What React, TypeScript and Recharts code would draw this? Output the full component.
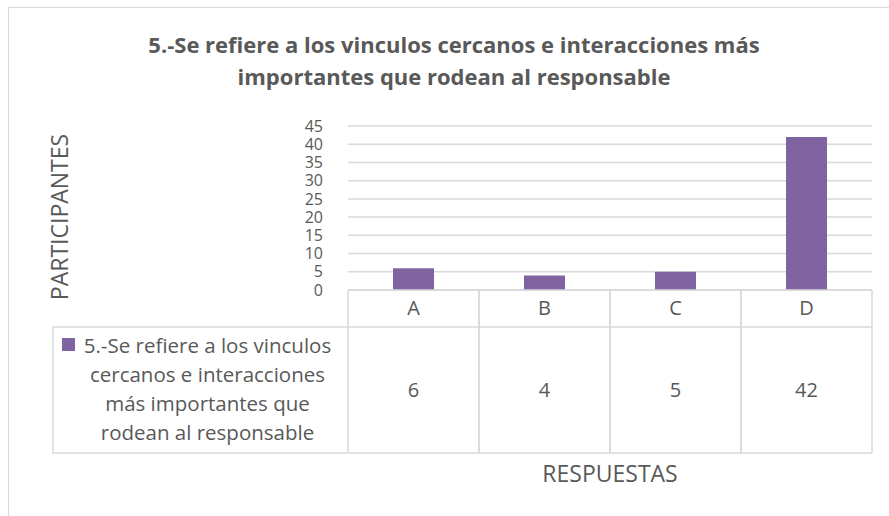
import { BarChart, Bar, XAxis, YAxis, CartesianGrid } from 'recharts';

const categories = ['A', 'B', 'C', 'D'];
const values = [6, 4, 5, 42];
const yTicks = [0, 5, 10, 15, 20, 25, 30, 35, 40, 45];
const seriesName = '5.-Se refiere a los vinculos cercanos e interacciones más importantes que rodean al responsable';
const legendLines = ['5.-Se refiere a los vinculos', 'cercanos e interacciones', 'más importantes que', 'rodean al responsable'];
const titleLines = ['5.-Se refiere a los vinculos cercanos e interacciones más', 'importantes que rodean al responsable'];

const data = categories.map((name, i) => ({ name, value: values[i] }));

const FONT = '"Open Sans", sans-serif';
const TEXT = '#595959';
const LINE = '#D9D9D9';
const BAR = '#8064A2';

// data table under the plot, one column per category tick
function TableTick(props: any) {
    const { x, y, payload, index } = props;
    const half = payload.offset;
    const left = x - half;
    const right = x + half;
    const rowMid = y + 37;
    const bottom = y + 163;
    return (
        <g>
            <line x1={left} y1={y} x2={left} y2={bottom} stroke={LINE} strokeWidth={1.5} />
            <line x1={right} y1={y} x2={right} y2={bottom} stroke={LINE} strokeWidth={1.5} />
            <line x1={left} y1={y} x2={right} y2={y} stroke={LINE} strokeWidth={1.5} />
            <line x1={left} y1={rowMid} x2={right} y2={rowMid} stroke={LINE} strokeWidth={1.5} />
            <line x1={left} y1={bottom} x2={right} y2={bottom} stroke={LINE} strokeWidth={1.5} />
            <text x={x} y={y + 25} textAnchor="middle" fontSize={20} fill={TEXT} fontFamily={FONT}>
                {payload.value}
            </text>
            <text x={x} y={y + 107} textAnchor="middle" fontSize={20} fill={TEXT} fontFamily={FONT}>
                {values[index]}
            </text>
            {index === 0 && (
                <g>
                    <polyline
                        points={`${left},${rowMid} 53,${rowMid} 53,${bottom} ${left},${bottom}`}
                        fill="none"
                        stroke={LINE}
                        strokeWidth={1.5}
                    />
                    <rect x={62} y={rowMid + 11} width={13} height={13} fill={BAR} />
                    {legendLines.map((t, i) => (
                        <text
                            key={t}
                            x={(53 + left) / 2 + 7}
                            y={rowMid + 26 + i * 29}
                            textAnchor="middle"
                            fontSize={20.5}
                            fill={TEXT}
                            fontFamily={FONT}
                        >
                            {t}
                        </text>
                    ))}
                </g>
            )}
        </g>
    );
}

export default function App() {
    return (
        <div style={{ position: 'absolute', left: 0, top: 0, width: 889, height: 516, overflow: 'hidden', background: '#fff' }}>
            <div style={{ position: 'absolute', left: 8, top: 7, width: 950, height: 600, border: `1.5px solid ${LINE}` }} />
            <div style={{ position: 'absolute', left: 0, top: 0 }}>
                <BarChart width={889} height={516} data={data} margin={{ top: 126, right: 17, bottom: 0, left: 0 }}>
                    <CartesianGrid vertical={false} stroke={LINE} strokeWidth={1.5} />
                    <XAxis
                        dataKey="name"
                        height={226}
                        axisLine={false}
                        tickLine={false}
                        tickSize={0}
                        tickMargin={0}
                        interval={0}
                        tick={(p: any) => <TableTick {...p} />}
                        label={{
                            content: (p: any) => (
                                <text
                                    x={p.viewBox.x + p.viewBox.width / 2}
                                    y={482}
                                    textAnchor="middle"
                                    fontSize={23}
                                    fill={TEXT}
                                    fontFamily={FONT}
                                >
                                    RESPUESTAS
                                </text>
                            ),
                        }}
                    />
                    <YAxis
                        width={348}
                        domain={[0, 45]}
                        ticks={yTicks}
                        interval={0}
                        axisLine={false}
                        tickLine={false}
                        tickSize={0}
                        tickMargin={25}
                        tick={{ fill: TEXT, fontSize: 16, fontFamily: FONT }}
                        label={{
                            content: () => (
                                <text
                                    x={68}
                                    y={217}
                                    transform="rotate(-90, 68, 217)"
                                    textAnchor="middle"
                                    fontSize={23}
                                    fill={TEXT}
                                    fontFamily={FONT}
                                >
                                    PARTICIPANTES
                                </text>
                            ),
                        }}
                    />
                    <Bar dataKey="value" name={seriesName} fill={BAR} barSize={41} isAnimationActive={false} />
                </BarChart>
            </div>
            <svg width={889} height={516} style={{ position: 'absolute', left: 0, top: 0, pointerEvents: 'none' }}>
                {titleLines.map((t, i) => (
                    <text
                        key={t}
                        x={454}
                        y={53 + i * 32}
                        textAnchor="middle"
                        fontSize={22}
                        fontWeight="bold"
                        fill={TEXT}
                        fontFamily={FONT}
                    >
                        {t}
                    </text>
                ))}
            </svg>
        </div>
    );
}
